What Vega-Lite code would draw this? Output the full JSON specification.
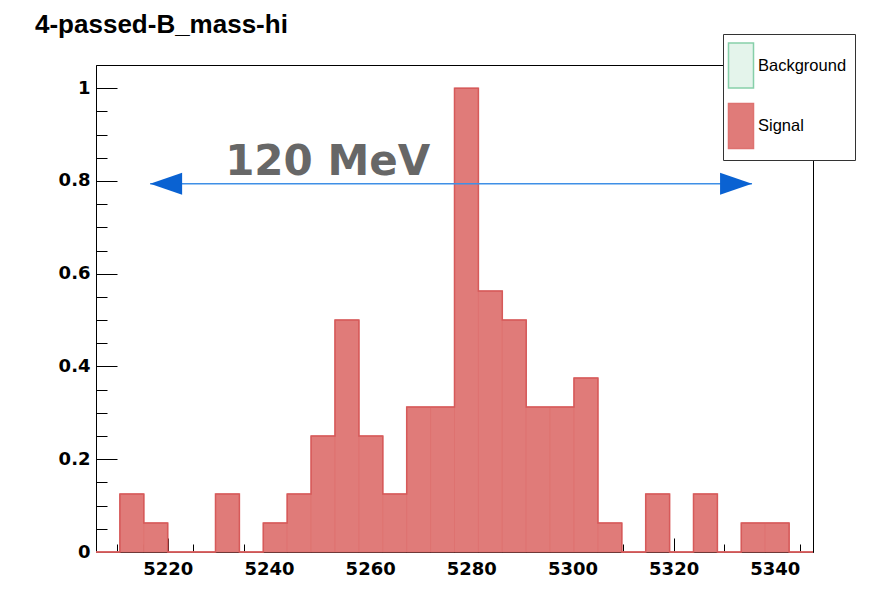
{
  "$schema": "https://vega.github.io/schema/vega-lite/v6.json",
  "width": 717,
  "height": 487,
  "autosize": {"type": "none"},
  "padding": {"left": 96, "top": 65, "right": 82, "bottom": 58},
  "background": "#ffffff",
  "title": {
    "text": "4-passed-B_mass-hi",
    "anchor": "start",
    "frame": "group",
    "font": "Liberation Sans",
    "fontSize": 26,
    "fontWeight": "bold",
    "color": "#000000",
    "baseline": "alphabetic",
    "offset": 0,
    "dx": -61,
    "dy": 25
  },
  "config": {
    "view": {"stroke": "#000000", "strokeWidth": 1},
    "axis": {"grid": false, "title": null, "tickColor": "#000000", "domainColor": "#000000", "labelColor": "#000000"}
  },
  "datasets": {
    "bins": [
      {"x0": 5205.8, "x1": 5210.525, "v": 0},
      {"x0": 5210.525, "x1": 5215.25, "v": 0.125},
      {"x0": 5215.25, "x1": 5219.975, "v": 0.0625},
      {"x0": 5219.975, "x1": 5224.7, "v": 0},
      {"x0": 5224.7, "x1": 5229.425, "v": 0},
      {"x0": 5229.425, "x1": 5234.15, "v": 0.125},
      {"x0": 5234.15, "x1": 5238.875, "v": 0},
      {"x0": 5238.875, "x1": 5243.6, "v": 0.0625},
      {"x0": 5243.6, "x1": 5248.325, "v": 0.125},
      {"x0": 5248.325, "x1": 5253.05, "v": 0.25},
      {"x0": 5253.05, "x1": 5257.775, "v": 0.5},
      {"x0": 5257.775, "x1": 5262.5, "v": 0.25},
      {"x0": 5262.5, "x1": 5267.225, "v": 0.125},
      {"x0": 5267.225, "x1": 5271.95, "v": 0.3125},
      {"x0": 5271.95, "x1": 5276.675, "v": 0.3125},
      {"x0": 5276.675, "x1": 5281.4, "v": 1},
      {"x0": 5281.4, "x1": 5286.125, "v": 0.5625},
      {"x0": 5286.125, "x1": 5290.85, "v": 0.5},
      {"x0": 5290.85, "x1": 5295.575, "v": 0.3125},
      {"x0": 5295.575, "x1": 5300.3, "v": 0.3125},
      {"x0": 5300.3, "x1": 5305.025, "v": 0.375},
      {"x0": 5305.025, "x1": 5309.75, "v": 0.0625},
      {"x0": 5309.75, "x1": 5314.475, "v": 0},
      {"x0": 5314.475, "x1": 5319.2, "v": 0.125},
      {"x0": 5319.2, "x1": 5323.925, "v": 0},
      {"x0": 5323.925, "x1": 5328.65, "v": 0.125},
      {"x0": 5328.65, "x1": 5333.375, "v": 0},
      {"x0": 5333.375, "x1": 5338.1, "v": 0.0625},
      {"x0": 5338.1, "x1": 5342.825, "v": 0.0625},
      {"x0": 5342.825, "x1": 5347.55, "v": 0}
    ],
    "arrow": [
      {"from": 5216.5, "to": 5335.5, "y": 0.794, "label": "120 MeV", "lx": 5251.6, "ly": 0.813}
    ]
  },
  "layer": [
    {
      "data": {"name": "bins"},
      "mark": {"type": "rect", "strokeWidth": 1},
      "encoding": {
        "x": {
          "field": "x0", "type": "quantitative",
          "scale": {"domain": [5205.8, 5347.55], "nice": false, "zero": false},
          "axis": {
            "orient": "bottom",
            "values": [5220, 5240, 5260, 5280, 5300, 5320, 5340],
            "format": "d",
            "tickSize": -14,
            "labelPadding": 22,
            "labelFont": "DejaVu Sans",
            "labelFontWeight": "bold",
            "labelFontSize": 18,
            "labelFlush": false,
            "labelOverlap": false
          }
        },
        "x2": {"field": "x1"},
        "y": {
          "field": "v", "type": "quantitative",
          "scale": {"domain": [0, 1.05], "nice": false},
          "axis": {
            "orient": "left",
            "values": [0, 0.2, 0.4, 0.6, 0.8, 1],
            "format": "~g",
            "tickSize": -21,
            "labelPadding": 27,
            "labelFont": "DejaVu Sans",
            "labelFontWeight": "bold",
            "labelFontSize": 18,
            "labelFlush": false,
            "labelOverlap": false
          }
        },
        "y2": {"datum": 0},
        "fill": {
          "datum": "Signal", "type": "nominal",
          "scale": {"domain": ["Background", "Signal"], "range": ["#e4f4eb", "#e07b79"]},
          "legend": {
            "orient": "none", "legendX": 627, "legendY": -31, "title": null,
            "symbolType": "M-1.156,-1H-0.044V1H-1.156Z", "symbolSize": 2025,
            "labelFont": "Liberation Sans", "labelFontSize": 16.5, "labelColor": "#000000",
            "labelOffset": -20, "padding": 8, "rowPadding": 9.5,
            "fillColor": "#ffffff", "strokeColor": "#333333",
            "encode": {"symbols": {"update": {"strokeWidth": {"value": 2}}}}
          }
        },
        "stroke": {
          "datum": "Signal", "type": "nominal",
          "scale": {"domain": ["Background", "Signal"], "range": ["#86cfa9", "#de7270"]},
          "legend": {
            "orient": "none", "legendX": 627, "legendY": -31, "title": null,
            "symbolType": "M-1.156,-1H-0.044V1H-1.156Z", "symbolSize": 2025,
            "labelFont": "Liberation Sans", "labelFontSize": 16.5, "labelColor": "#000000",
            "labelOffset": -20, "padding": 8, "rowPadding": 9.5,
            "fillColor": "#ffffff", "strokeColor": "#333333",
            "encode": {"symbols": {"update": {"strokeWidth": {"value": 2}}}}
          }
        }
      }
    },
    {
      "data": {"name": "bins"},
      "transform": [{"fold": ["x0", "x1"], "as": ["edge", "ex"]}],
      "mark": {"type": "line", "color": "#d65a5a", "strokeWidth": 1.5, "interpolate": "linear"},
      "encoding": {
        "x": {
          "field": "ex", "type": "quantitative",
          "scale": {"domain": [5205.8, 5347.55], "nice": false, "zero": false},
          "axis": {
            "orient": "bottom",
            "values": [5210, 5215, 5220, 5225, 5230, 5235, 5240, 5245, 5250, 5255, 5260, 5265, 5270, 5275, 5280, 5285, 5290, 5295, 5300, 5305, 5310, 5315, 5320, 5325, 5330, 5335, 5340, 5345],
            "tickSize": -8, "labels": false, "domain": false
          }
        },
        "y": {
          "field": "v", "type": "quantitative",
          "scale": {"domain": [0, 1.05], "nice": false},
          "axis": {
            "orient": "left",
            "values": [0.05, 0.1, 0.15, 0.2, 0.25, 0.3, 0.35, 0.4, 0.45, 0.5, 0.55, 0.6, 0.65, 0.7, 0.75, 0.8, 0.85, 0.9, 0.95, 1.0],
            "tickSize": -11, "labels": false, "domain": false
          }
        },
        "order": [
          {"field": "ex", "type": "quantitative"},
          {"field": "edge", "type": "nominal", "sort": "descending"}
        ]
      }
    },
    {
      "data": {"name": "arrow"},
      "mark": {"type": "rule", "color": "#3f8fe6", "strokeWidth": 1.5},
      "encoding": {
        "x": {"field": "from", "type": "quantitative", "axis": null},
        "x2": {"field": "to"},
        "y": {"field": "y", "type": "quantitative", "axis": null}
      }
    },
    {
      "data": {"name": "arrow"},
      "mark": {"type": "point", "shape": "M0,0L2,-0.69L2,0.69Z", "size": 1024, "filled": true, "color": "#0a62d2", "opacity": 1},
      "encoding": {
        "x": {"field": "from", "type": "quantitative", "axis": null},
        "y": {"field": "y", "type": "quantitative", "axis": null}
      }
    },
    {
      "data": {"name": "arrow"},
      "mark": {"type": "point", "shape": "M0,0L-2,-0.69L-2,0.69Z", "size": 1024, "filled": true, "color": "#0a62d2", "opacity": 1},
      "encoding": {
        "x": {"field": "to", "type": "quantitative", "axis": null},
        "y": {"field": "y", "type": "quantitative", "axis": null}
      }
    },
    {
      "data": {"name": "arrow"},
      "mark": {"type": "text", "font": "DejaVu Sans", "fontWeight": "bold", "fontSize": 42, "color": "#676767", "align": "center", "baseline": "alphabetic"},
      "encoding": {
        "x": {"field": "lx", "type": "quantitative", "axis": null},
        "y": {"field": "ly", "type": "quantitative", "axis": null},
        "text": {"field": "label"}
      }
    }
  ],
  "resolve": {"axis": {"x": "independent", "y": "independent"}}
}
